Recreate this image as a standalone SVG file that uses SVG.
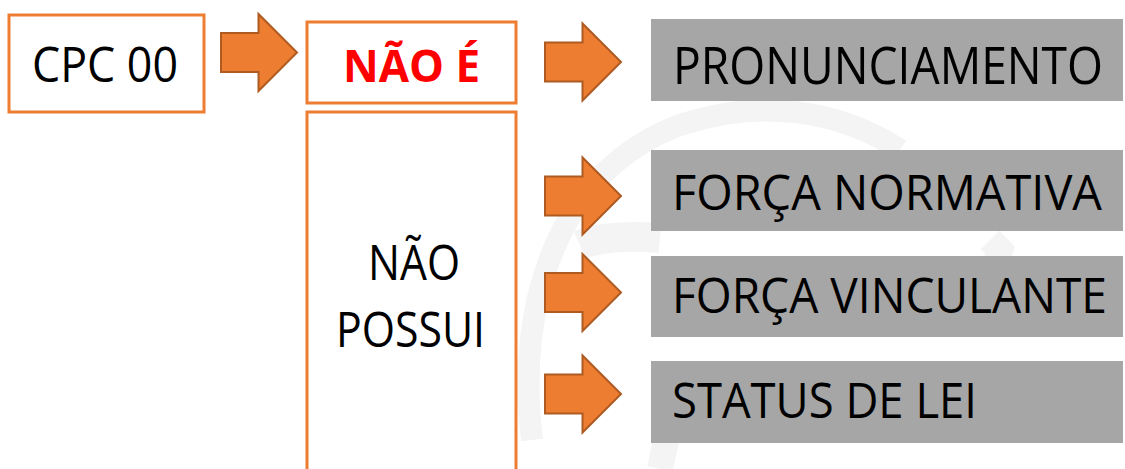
<svg xmlns="http://www.w3.org/2000/svg" xmlns:xlink="http://www.w3.org/1999/xlink" width="1125" height="469" viewBox="0 0 1125 469">
<style>
.obox{fill:#ffffff;stroke:#ED7D31;stroke-width:3}
.gbox{fill:#A6A6A6}
.t{font-family:"Open Sans","Liberation Sans",sans-serif;fill:#000000}
.arrow{fill:#ED7D31;stroke:#AE5A21;stroke-width:2;stroke-linejoin:miter}
.wm{fill:none;stroke:#f4f4f4}
</style>
<defs>
<path id="arr" d="M0,-19.5 H37.5 V-38.5 L76,0 L37.5,38.5 V19.5 H0 Z"/>
</defs>
<rect width="1125" height="469" fill="#ffffff"/>
<g id="watermark">
<path class="wm" stroke-width="22" d="M532,440 C515,300 560,170 680,125 C760,98 840,110 900,150"/>
<path class="wm" stroke-width="30" d="M580,245 C600,236 640,236 660,238"/>
<path class="wm" stroke-width="26" d="M990,240 L1000,250 L996,262"/>
<path class="wm" stroke-width="26" d="M660,469 L680,375"/>
</g>
<g id="cpc00">
<rect class="obox" x="9" y="15" width="195" height="97"/>
<text class="t" x="105" y="82" font-size="49" text-anchor="middle" textLength="146" lengthAdjust="spacingAndGlyphs">CPC 00</text>
</g>
<g id="nao-e">
<rect class="obox" x="307" y="22" width="209" height="81"/>
<text class="t" x="411.5" y="82" font-size="45" font-weight="bold" style="fill:#FF0000" text-anchor="middle" textLength="137" lengthAdjust="spacingAndGlyphs">NÃO É</text>
</g>
<g id="nao-possui">
<rect class="obox" x="307" y="112" width="209" height="370"/>
<text class="t" x="414" y="280" font-size="49" text-anchor="middle" textLength="92" lengthAdjust="spacingAndGlyphs">NÃO</text>
<text class="t" x="410.5" y="347" font-size="49" text-anchor="middle" textLength="149" lengthAdjust="spacingAndGlyphs">POSSUI</text>
</g>
<g id="pronunciamento">
<rect class="gbox" x="651" y="19" width="472" height="82"/>
<text class="t" x="673" y="84" font-size="52" textLength="430" lengthAdjust="spacingAndGlyphs">PRONUNCIAMENTO</text>
</g>
<g id="forca-normativa">
<rect class="gbox" x="651" y="150" width="472" height="81"/>
<text class="t" x="672" y="210" font-size="49" textLength="430" lengthAdjust="spacingAndGlyphs">FORÇA NORMATIVA</text>
</g>
<g id="forca-vinculante">
<rect class="gbox" x="651" y="256" width="472" height="81"/>
<text class="t" x="672" y="313" font-size="49" textLength="435" lengthAdjust="spacingAndGlyphs">FORÇA VINCULANTE</text>
</g>
<g id="status-de-lei">
<rect class="gbox" x="651" y="361" width="472" height="82"/>
<text class="t" x="672" y="418" font-size="49" textLength="305" lengthAdjust="spacingAndGlyphs">STATUS DE LEI</text>
</g>
<g id="connectors">
<use xlink:href="#arr" class="arrow" transform="translate(221,52.5)"/>
<use xlink:href="#arr" class="arrow" transform="translate(545,62)"/>
<use xlink:href="#arr" class="arrow" transform="translate(545,196)"/>
<use xlink:href="#arr" class="arrow" transform="translate(545,292.5)"/>
<use xlink:href="#arr" class="arrow" transform="translate(545,394)"/>
</g>
</svg>
